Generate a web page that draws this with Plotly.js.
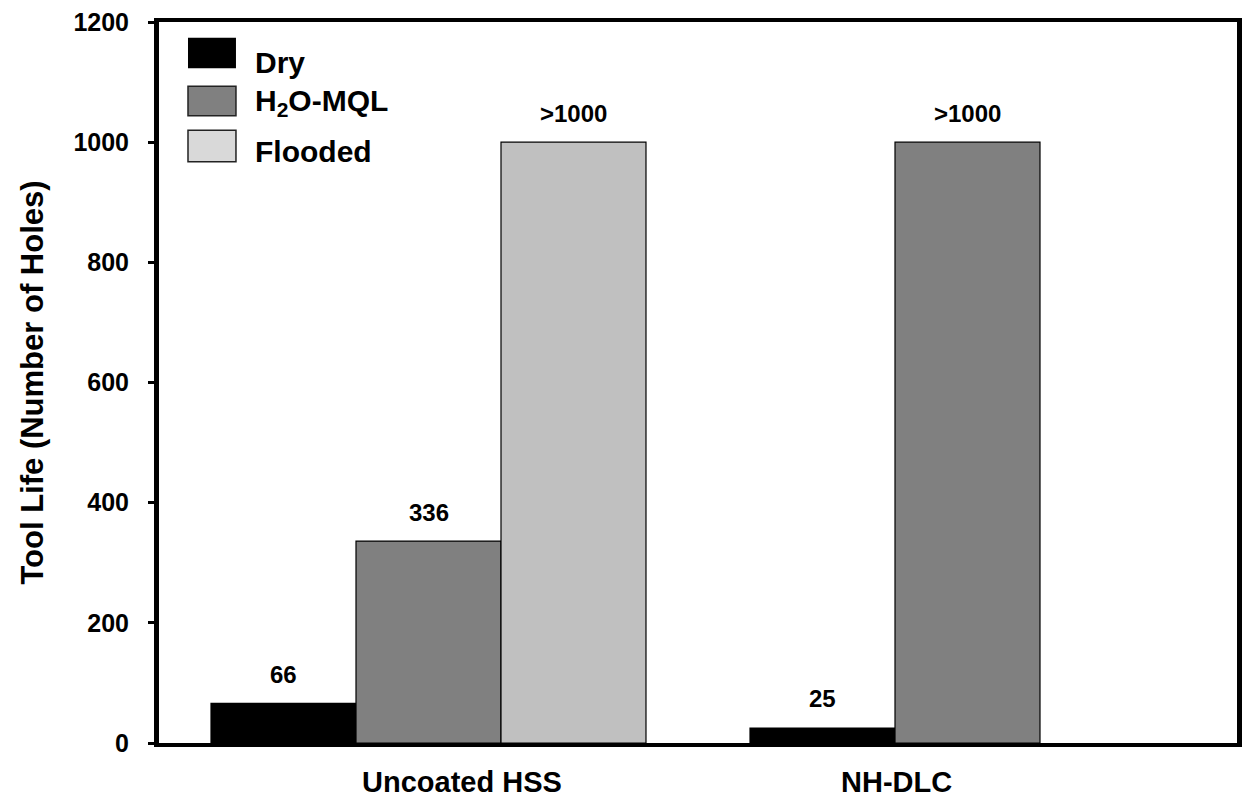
<!DOCTYPE html>
<html>
<head>
<meta charset="utf-8">
<script src="https://cdn.plot.ly/plotly-3.0.1.min.js"></script>
<style>html,body{margin:0;padding:0;background:#fff;}#chart{width:1244px;height:802px;}</style>
</head>
<body>
<div id="chart"></div>
<script>
// ---- data ----
const categories = ["Uncoated HSS", "NH-DLC"];
const seriesNames = ["Dry", "H<sub>2</sub>O-MQL", "Flooded"];
const dryValues = [66, 25];
const mqlValues = [336, 1000];
const floodedValues = [1000, null];
const dryLabels = ["66", "25"];
const mqlLabels = ["336", ">1000"];
const floodedLabels = [">1000", null];
const yTickValues = [0, 200, 400, 600, 800, 1000, 1200];

const barColors = ["#000000", "#808080", "#c0c0c0"];
const legendColors = ["#000000", "#808080", "#d9d9d9"];
const FONT = "Liberation Sans, Arial, sans-serif";

const values = [dryValues, mqlValues, floodedValues];
const labels = [dryLabels, mqlLabels, floodedLabels];
const bargap = 0.193;
const barW = (1 - bargap) / 3;

const traces = values.map((v, i) => ({
  type: "bar",
  x: categories.map((c, k) => k),
  y: v,
  name: seriesNames[i],
  marker: {color: barColors[i], line: {color: "#000", width: 1.2}},
  showlegend: false,
  hoverinfo: "skip"
}));

const annotations = [];
// data labels
labels.forEach((arr, si) => {
  arr.forEach((t, ci) => {
    if (t === null) return;
    annotations.push({
      x: ci + (si - 1) * barW, y: values[si][ci], xref: "x", yref: "y",
      text: "<b>" + t + "</b>", showarrow: false, yanchor: "middle", yshift: 29,
      font: {family: FONT, size: 24, color: "#000"}
    });
  });
});
// category labels (offset as in reference)
const catLabelShift = [0.063, -0.131];
categories.forEach((c, k) => {
  annotations.push({
    x: k + catLabelShift[k], y: 0, xref: "x", yref: "paper",
    text: "<b>" + c + "</b>", showarrow: false, yanchor: "middle", yshift: -39,
    font: {family: FONT, size: 29, color: "#000"}
  });
});
// custom legend
const shapes = [];
const legRows = [[0.978, 0.936, 0.9445], [0.911, 0.870, 0.889], [0.850, 0.806, 0.8197]];
seriesNames.forEach((n, i) => {
  shapes.push({type: "rect", xref: "paper", yref: "paper", x0: 0.0269, x1: 0.0714,
    y0: legRows[i][1], y1: legRows[i][0], fillcolor: legendColors[i],
    line: {color: "#222", width: i === 0 ? 0 : 1.5}});
  annotations.push({x: 0.0872, y: legRows[i][2], xref: "paper", yref: "paper",
    xanchor: "left", yanchor: "middle", showarrow: false, text: "<b>" + n + "</b>",
    font: {family: FONT, size: 30, color: "#000"}});
});

const layout = {
  width: 1244, height: 802,
  margin: {l: 159, r: 7, t: 22, b: 59},
  paper_bgcolor: "#fff", plot_bgcolor: "#fff",
  barmode: "group", bargap: bargap, bargroupgap: 0,
  showlegend: false,
  font: {family: FONT, color: "#000"},
  xaxis: {
    type: "linear", range: [-0.5, 1.5], showticklabels: false, ticks: "",
    showgrid: false, zeroline: false,
    showline: true, linecolor: "#000", linewidth: 4, mirror: true
  },
  yaxis: {
    range: [0, 1200], tickvals: yTickValues, ticks: "outside", ticklen: 6, tickwidth: 3,
    tickcolor: "#000", showgrid: false, zeroline: false,
    showline: true, linecolor: "#000", linewidth: 5, mirror: true,
    ticklabelstandoff: 14,
    tickfont: {family: FONT, size: 25, color: "#000", weight: "bold"},
    title: {text: "<b>Tool Life (Number of Holes)</b>", standoff: 22,
      font: {family: FONT, size: 31, color: "#000"}}
  },
  annotations: annotations,
  shapes: shapes
};

Plotly.newPlot("chart", traces, layout, {displayModeBar: false, staticPlot: true});
</script>
</body>
</html>
